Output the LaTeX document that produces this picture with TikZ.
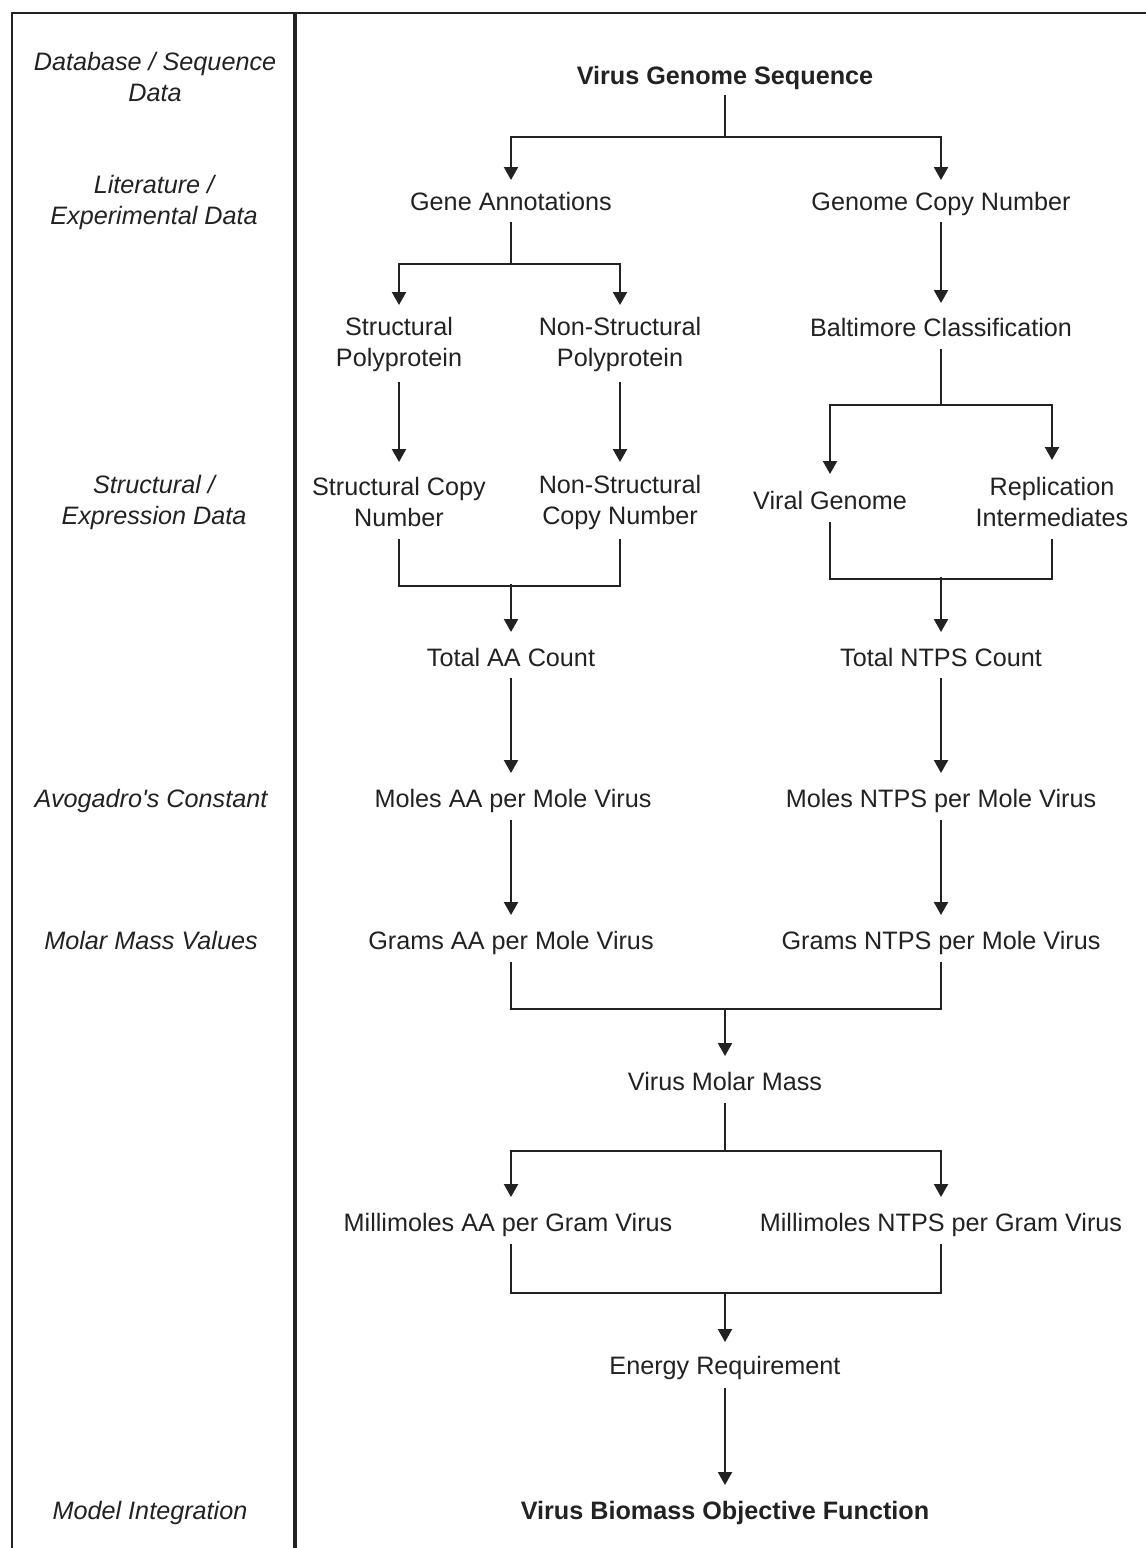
\documentclass[tikz,border=0pt]{standalone}
\usepackage{fontspec}
\setmainfont{Liberation Sans}
\usetikzlibrary{arrows.meta,calc}
\definecolor{ink}{HTML}{222222}
\begin{document}
\begin{tikzpicture}[x=0.5pt,y=-0.5pt,
  every node/.style={font=\fontsize{12.6}{15.5}\selectfont, text=ink, inner sep=0pt, text height=9pt, text depth=0pt},
  two/.style={align=center, text height=, text depth=, yshift=-1pt},
  lbl/.style={font=\fontsize{12.6}{15.5}\selectfont\itshape},
  bnode/.style={font=\fontsize{12.6}{15.5}\selectfont\bfseries},
  conn/.style={draw=ink, line width=1.1pt},
  arr/.style={conn, -{Triangle[width=7pt,length=6.5pt]}},
  frame/.style={draw=ink, line width=1.1pt},
  divider/.style={draw=ink, line width=2pt},
]
\useasboundingbox (0,0) rectangle (1146,1548);
\fill[white] (0,0) rectangle (1146,1548);

% frame
\draw[frame] (12,1548) -- (12,13) -- (1146,13);
\draw[divider] (295,13) -- (295,1548);

% left labels
\node[lbl,two] (l1) at (155,75) {Database / Sequence\\Data};
\node[lbl,two] (l2) at (154,200) {Literature /\\Experimental Data};
\node[lbl,two] (l3) at (154,500) {Structural /\\Expression Data};
\node[lbl] (l4) at (151,798) {Avogadro\textquotesingle s Constant};
\node[lbl] (l5) at (151,940) {Molar Mass Values};
\node[lbl] (l6) at (150,1510) {Model Integration};

% nodes
\node[bnode] (vgs) at (725,75) {Virus Genome Sequence};
\node (ga) at (511,201) {Gene Annotations};
\node (gcn) at (941,201) {Genome Copy Number};
\node[two] (sp) at (399,342) {Structural\\Polyprotein};
\node[two] (nsp) at (620,342) {Non-Structural\\Polyprotein};
\node (bc) at (941,327) {Baltimore Classification};
\node[two] (scn) at (399,500) {Structural Copy\\Number};
\node[two] (nscn) at (620,500) {Non-Structural\\Copy Number};
\node (vg) at (830,500) {Viral Genome};
\node[two] (ri) at (1052,500) {Replication\\Intermediates};
\node (taa) at (511,657) {Total AA Count};
\node (tnt) at (941,657) {Total NTPS Count};
\node (maa) at (513,798) {Moles AA per Mole Virus};
\node (mnt) at (941,798) {Moles NTPS per Mole Virus};
\node (gaa) at (511,940) {Grams AA per Mole Virus};
\node (gnt) at (941,940) {Grams NTPS per Mole Virus};
\node (vmm) at (725,1081) {Virus Molar Mass};
\node (mmaa) at (508,1222) {Millimoles AA per Gram Virus};
\node (mmnt) at (941,1222) {Millimoles NTPS per Gram Virus};
\node (er) at (725,1365) {Energy Requirement};
\node[bnode] (vbof) at (725,1510) {Virus Biomass Objective Function};

% connectors
\coordinate (j1) at (725,137);
\draw[conn] ($(vgs)+(0,20)$) -- (j1);
\draw[arr] (j1) -| ($(ga)+(0,-21)$);
\draw[arr] (j1) -| ($(gcn)+(0,-21)$);

\coordinate (j2) at (511,264);
\draw[conn] ($(ga)+(0,21)$) -- (j2);
\draw[arr] (j2) -| ($(sp)+(0,-39)$);
\draw[arr] (j2) -| ($(nsp)+(0,-39)$);

\draw[arr] ($(gcn)+(0,21)$) -- ($(bc)+(0,-24)$);
\draw[arr] ($(sp)+(0,38)$) -- ($(scn)+(0,-40)$);
\draw[arr] ($(nsp)+(0,38)$) -- ($(nscn)+(0,-40)$);

\coordinate (j3) at (941,405);
\draw[conn] ($(bc)+(0,22)$) -- (j3);
\draw[arr] (j3) -| ($(vg)+(0,-26)$);
\draw[arr] (j3) -| ($(ri)+(0,-42)$);

\coordinate (m1) at (511,584);
\draw[conn] ($(scn)+(0,37)$) |- ($(nscn)+(0,84)$) -- ($(nscn)+(0,37)$);
\draw[arr] (m1) -- ($(taa)+(0,-25)$);

\coordinate (m2) at (941,577);
\draw[conn] ($(vg)+(0,22)$) |- ($(ri)+(0,77)$) -- ($(ri)+(0,37)$);
\draw[arr] (m2) -- ($(tnt)+(0,-25)$);

\draw[arr] ($(taa)+(0,21)$) -- ($(maa)+(-2,-25)$);
\draw[arr] ($(tnt)+(0,21)$) -- ($(mnt)+(0,-25)$);
\draw[arr] ($(maa)+(-2,22)$) -- ($(gaa)+(0,-25)$);
\draw[arr] ($(mnt)+(0,22)$) -- ($(gnt)+(0,-25)$);

\coordinate (m3) at (725,1009);
\draw[conn] ($(gaa)+(0,22)$) |- ($(gnt)+(0,69)$) -- ($(gnt)+(0,22)$);
\draw[arr] (m3) -- ($(vmm)+(0,-25)$);

\coordinate (j4) at (725,1151);
\draw[conn] ($(vmm)+(0,22)$) -- (j4);
\draw[arr] (j4) -| ($(mmaa)+(3,-25)$);
\draw[arr] (j4) -| ($(mmnt)+(0,-25)$);

\coordinate (m4) at (725,1293);
\draw[conn] ($(mmaa)+(3,22)$) |- ($(mmnt)+(0,71)$) -- ($(mmnt)+(0,22)$);
\draw[arr] (m4) -- ($(er)+(0,-23)$);
\draw[arr] ($(er)+(0,23)$) -- ($(vbof)+(0,-25)$);
\end{tikzpicture}
\end{document}
